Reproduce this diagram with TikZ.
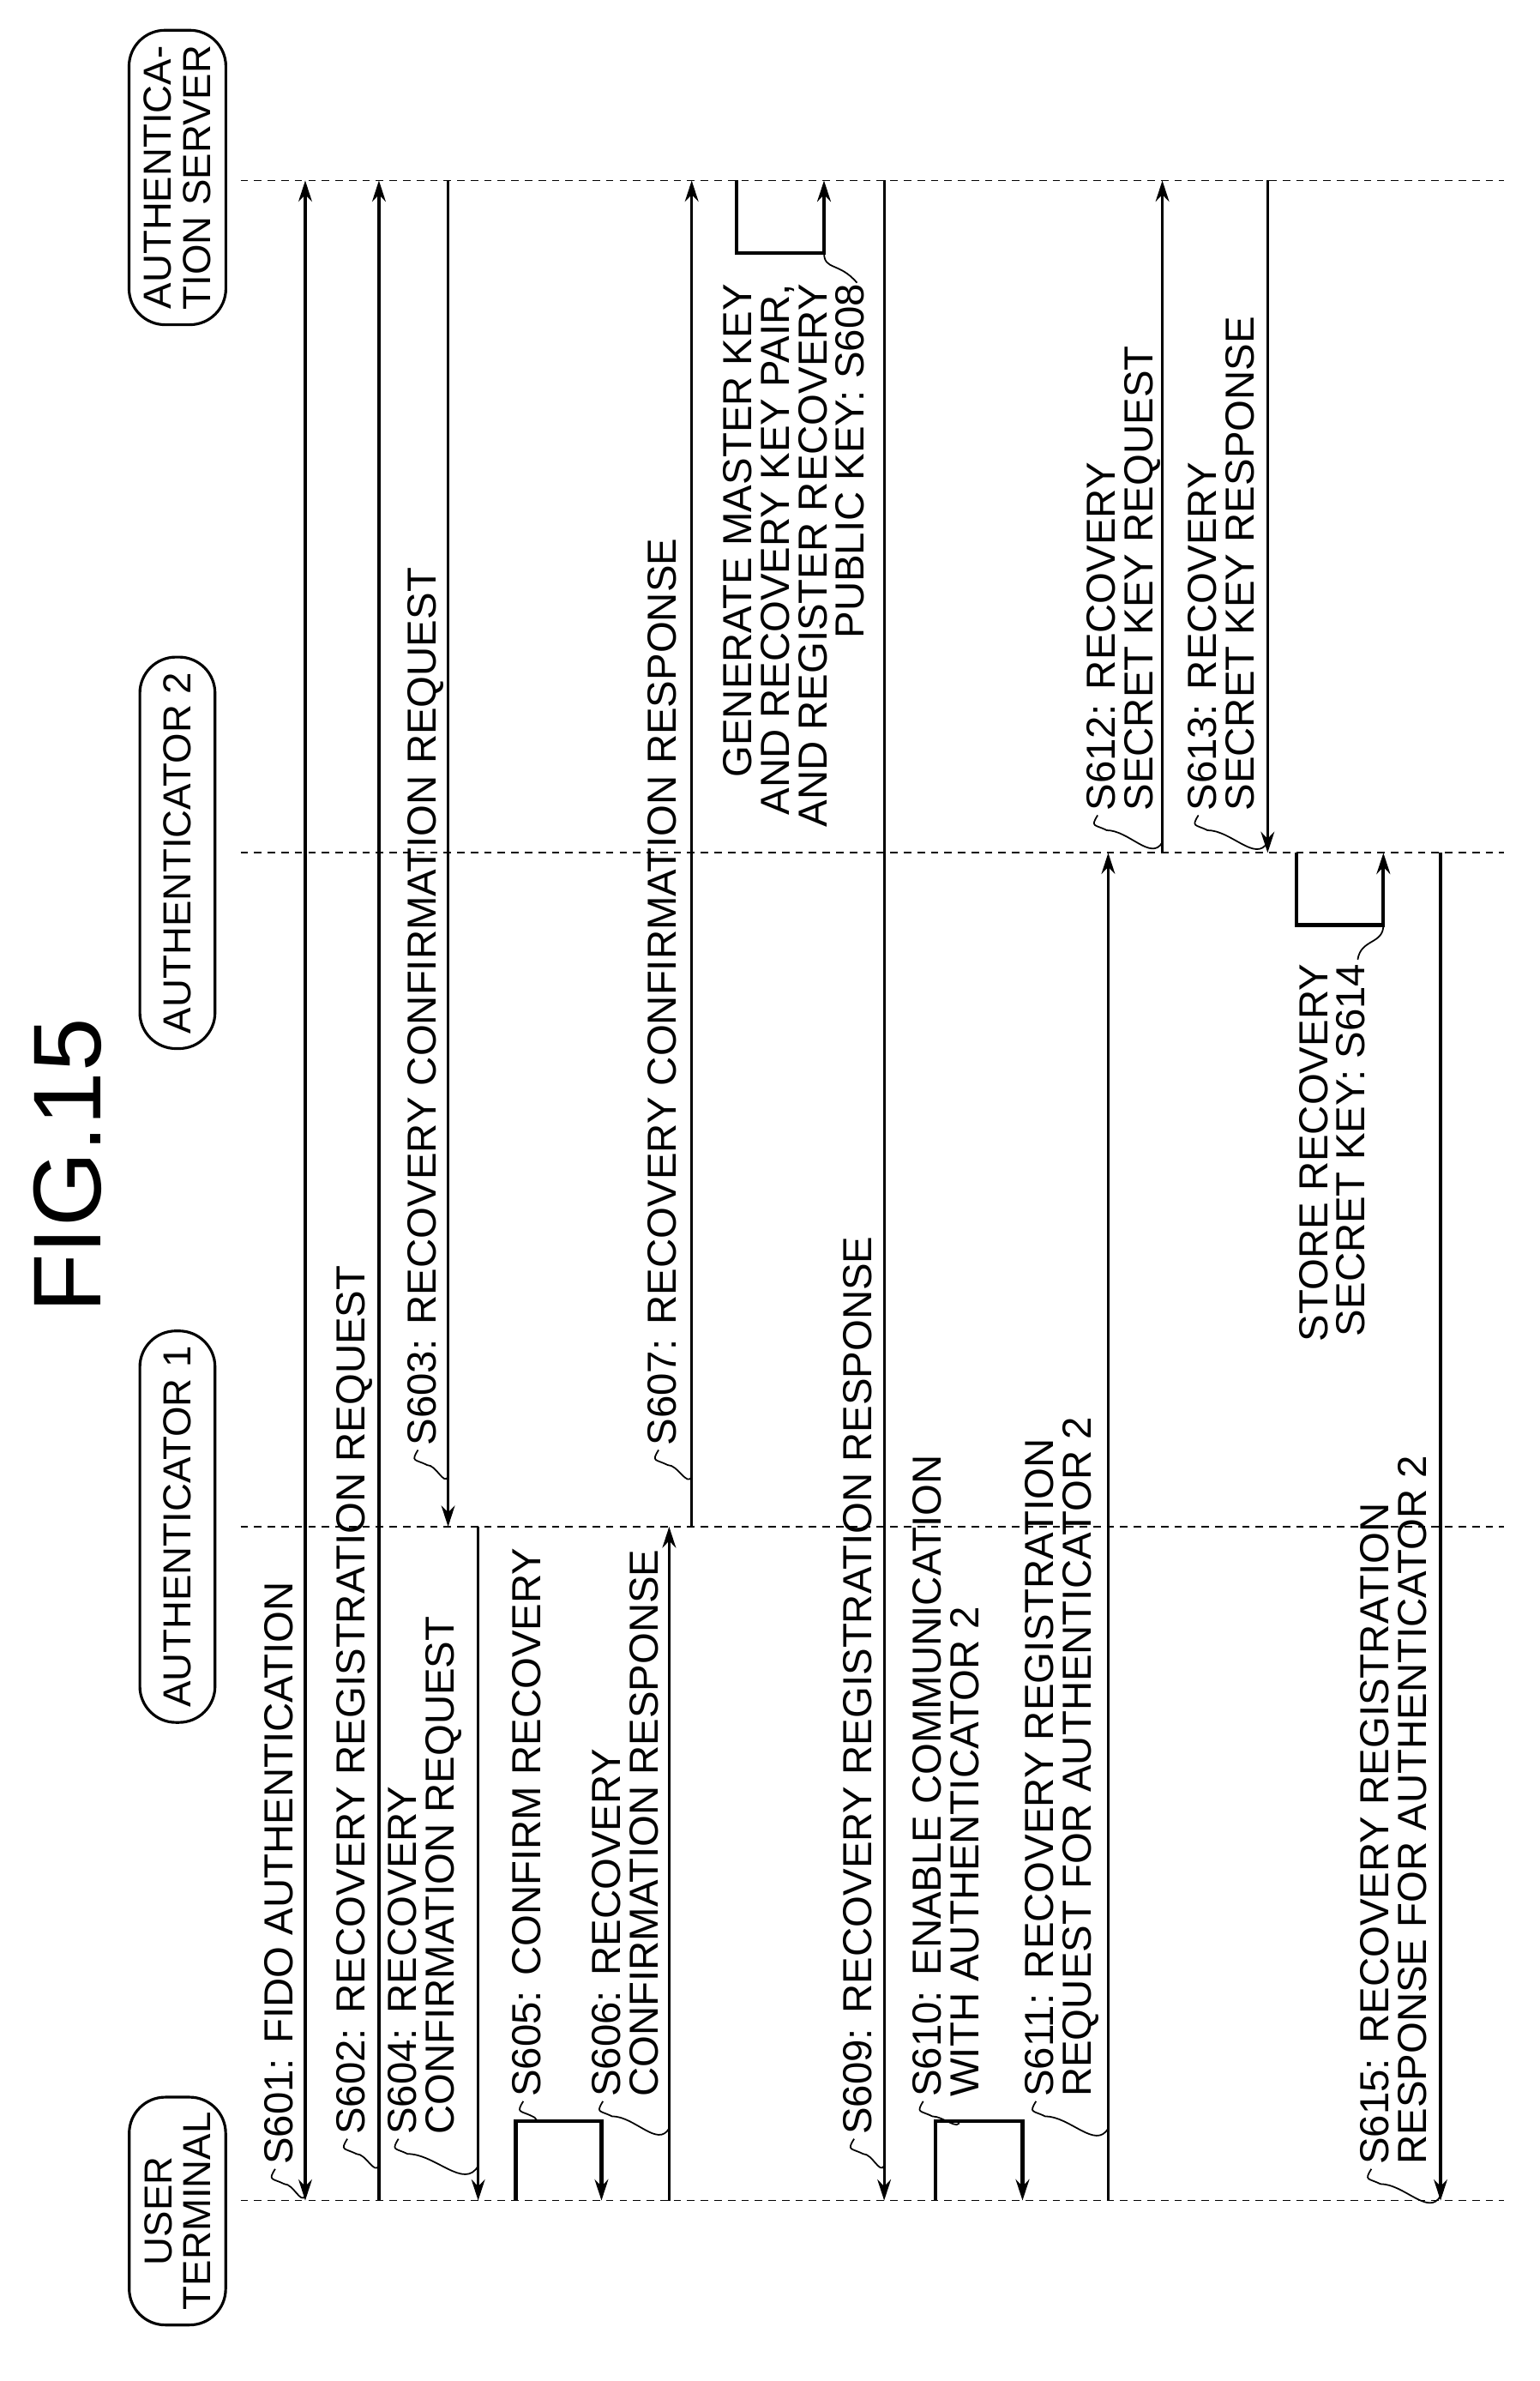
\documentclass[tikz,border=0pt]{standalone}
\usepackage{fontspec}
\setmainfont{Liberation Sans}
\usetikzlibrary{positioning, arrows.meta, calc}

\begin{document}
\begin{tikzpicture}[
    x=0.5pt, y=-0.5pt,
    line width=0.9pt,
    life/.style={dashed, dash pattern=on 2.5pt off 2pt, line width=0.5pt},
    msg/.style={-{Stealth[length=7pt, width=4.5pt]}},
    both/.style={{Stealth[length=7pt, width=4.5pt]}-{Stealth[length=7pt, width=4.5pt]}},
    self/.style={-{Stealth[length=7pt, width=4.5pt]}, line width=1.2pt},
    actor/.style={draw, rounded corners=12pt, rotate=90, align=center, font=\fontsize{13}{13}\selectfont, inner sep=5pt, minimum height=25pt},
    lbl/.style={rotate=90, align=left, anchor=north west, inner sep=0pt, font=\fontsize{13.5}{12.5}\selectfont},
    lblr/.style={rotate=90, align=right, anchor=north east, inner sep=0pt, font=\fontsize{13.5}{12.5}\selectfont},
    lead/.style={line width=0.5pt}
]
    \useasboundingbox (0,0) rectangle (1024,1583);

    % Titel
    \node (fig) [rotate=90, font=\fontsize{32}{32}\selectfont] at (45,775) {FIG.15};

    % Lebenslinien
    \coordinate (U) at (0,1463);
    \coordinate (A1) at (0,1015);
    \coordinate (A2) at (0,567);
    \coordinate (S) at (0,120);
    \foreach \l in {U, A1, A2, S}
        \draw[life] (160,0 |- \l) -- (1000,0 |- \l);

    % Akteure
    \node (nU) [actor] at (118,1470) {USER\\TERMINAL};
    \node (nA1) [actor] at (118,1015) {AUTHENTICATOR 1};
    \node (nA2) [actor] at (118,567) {AUTHENTICATOR 2};
    \node (nS) [actor] at (118,118) {AUTHENTICA-\\TION SERVER};

    % Nachrichten
    \foreach \n/\x in {601/203, 602/252, 603/298, 604/318, 606/445, 607/460,
                       609/588, 611/737, 612/773, 613/843, 615/958}
        \coordinate (m\n) at (\x,0);

    \draw[both] (m601 |- U) -- (m601 |- S);
    \draw[msg] (m602 |- U) -- (m602 |- S);
    \draw[msg] (m603 |- S) -- (m603 |- A1);
    \draw[msg] (m604 |- A1) -- (m604 |- U);
    \draw[msg] (m606 |- U) -- (m606 |- A1);
    \draw[msg] (m607 |- A1) -- (m607 |- S);
    \draw[msg] (m609 |- S) -- (m609 |- U);
    \draw[msg] (m611 |- U) -- (m611 |- A2);
    \draw[msg] (m612 |- A2) -- (m612 |- S);
    \draw[msg] (m613 |- S) -- (m613 |- A2);
    \draw[msg] (m615 |- A2) -- (m615 |- U);

    % Eigene Schritte
    \draw[self] (343,0 |- U) -- (343,1410) -- (400,1410) -- (400,0 |- U);
    \draw[self] (490,0 |- S) -- (490,168) -- (548,168) -- (548,0 |- S);
    \draw[self] (622,0 |- U) -- (622,1410) -- (680,1410) -- (680,0 |- U);
    \draw[self] (862,0 |- A2) -- (862,615) -- (920,615) -- (920,0 |- A2);

    % Beschriftungen
    \node (l601) [lbl] at (175,1440) {S601: FIDO AUTHENTICATION};
    \node (l602) [lbl] at (223,1420) {S602: RECOVERY REGISTRATION REQUEST};
    \node (l603) [lbl] at (270,962) {S603: RECOVERY CONFIRMATION REQUEST};
    \node (l604) [lbl] at (257,1420) {S604: RECOVERY\\CONFIRMATION REQUEST};
    \node (l605) [lbl] at (340,1395) {S605: CONFIRM RECOVERY};
    \node (l606) [lbl] at (393,1395) {S606: RECOVERY\\CONFIRMATION RESPONSE};
    \node (l607) [lbl] at (430,962) {S607: RECOVERY CONFIRMATION RESPONSE};
    \node (l608) [lblr] at (480,188) {GENERATE MASTER KEY\\AND RECOVERY KEY PAIR,\\AND REGISTER RECOVERY\\PUBLIC KEY: S608};
    \node (l609) [lbl] at (560,1420) {S609: RECOVERY REGISTRATION RESPONSE};
    \node (l610) [lbl] at (606,1395) {S610: ENABLE COMMUNICATION\\WITH AUTHENTICATOR 2};
    \node (l611) [lbl] at (681,1395) {S611: RECOVERY REGISTRATION\\REQUEST FOR AUTHENTICATOR 2};
    \node (l612) [lbl] at (722,540) {S612: RECOVERY\\SECRET KEY REQUEST};
    \node (l613) [lbl] at (789,540) {S613: RECOVERY\\SECRET KEY RESPONSE};
    \node (l614) [lblr] at (863,640) {STORE RECOVERY\\SECRET KEY: S614};
    \node (l615) [lbl] at (904,1440) {S615: RECOVERY REGISTRATION\\RESPONSE FOR AUTHENTICATOR 2};

    % Hinweislinien
    \foreach \n in {601, 602, 603, 604, 606, 607, 609, 611, 612, 613, 615}
        \draw[lead] ($(l\n.north west)+(8,2)$) .. controls +(-5,8) and +(-8,-4) .. ($(l\n.north west)+(14,12)$)
            to[out=0, in=-120] ($(m\n |- l\n.north west)+(0,20)$);
    \draw[lead] ($(l605.north west)+(8,2)$) .. controls +(-5,8) and +(-8,-4) .. ($(l605.north west)+(14,12)$)
        to[out=0, in=-90] (358,1410);
    \draw[lead] ($(l610.north west)+(8,2)$) .. controls +(-5,8) and +(-8,-4) .. ($(l610.north west)+(14,12)$)
        to[out=0, in=-90] (638,1410);
    \draw[lead] (548,168) .. controls (548,180) and (558,174) .. ($(l608.south east)+(-6,0)$);
    \draw[lead] (920,615) .. controls (920,628) and (905,624) .. ($(l614.south east)+(-6,-2)$);
\end{tikzpicture}
\end{document}
